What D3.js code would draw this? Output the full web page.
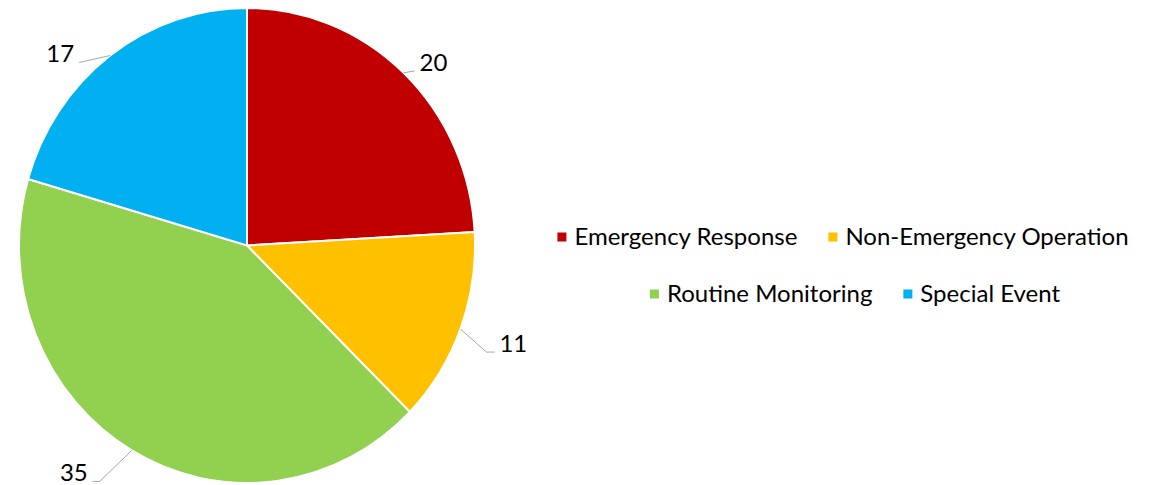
<!DOCTYPE html>
<html>
<head>
<meta charset="utf-8">
<script src="https://cdn.jsdelivr.net/npm/d3@7"></script>
<style>
  body { margin: 0; background: #fff; }
  text { font-family: Lato, "Open Sans", sans-serif; fill: #000; }
</style>
</head>
<body>
<div id="chart"></div>
<script>
// data
var categories = ["Emergency Response", "Non-Emergency Operation", "Routine Monitoring", "Special Event"];
var values = [20, 11, 35, 17];
var colors = ["#C00000", "#FFC000", "#92D050", "#00B0F0"];
var legendRows = [[0, 1], [2, 3]];

// leader lines: elbow offset from the arc point, then a short horizontal tail
var leaders = [[11, -2, 0], [26, 23, 8], [-32, 31, -7], [-31, 7, 0]];

var width = 1155, height = 485;
var cx = 247, cy = 245.5, rx = 228, ry = 237.5;

var svg = d3.select("#chart")
  .append("svg")
  .attr("width", width)
  .attr("height", height);

var pie = d3.pie().sort(null).value(function(d) { return d; });
var arcs = pie(values);

var arc = d3.arc().innerRadius(0).outerRadius(rx);

var g = svg.append("g")
  .attr("transform", "translate(" + cx + "," + cy + ") scale(1," + (ry / rx) + ")");

g.selectAll("path")
  .data(arcs)
  .enter().append("path")
  .attr("d", arc)
  .attr("fill", function(d, i) { return colors[i]; })
  .attr("stroke", "#fff")
  .attr("stroke-width", 2)
  .attr("vector-effect", "non-scaling-stroke");

// data labels
arcs.forEach(function(d, i) {
  var a = (d.startAngle + d.endAngle) / 2;
  var px = cx + Math.sin(a) * rx, py = cy - Math.cos(a) * ry;
  var ex = px + leaders[i][0], ey = py + leaders[i][1];
  var tx = ex + leaders[i][2];
  var right = Math.sin(a) > 0;

  svg.append("polyline")
    .attr("points", [[px, py], [ex, ey], [tx, ey]].join(" "))
    .attr("fill", "none")
    .attr("stroke", "#a6a6a6")
    .attr("stroke-width", 1);

  svg.append("text")
    .attr("x", right ? tx + 5 : tx - 5)
    .attr("y", ey)
    .attr("text-anchor", right ? "start" : "end")
    .style("font-size", "24px")
    .text(d.data);
});

// legend
var rowCx = [843, 855], rowY = [237, 294];
legendRows.forEach(function(row, r) {
  var lg = svg.append("g");
  var x = 0;
  row.forEach(function(i, k) {
    lg.append("rect")
      .attr("x", x).attr("y", rowY[r] - 4.5)
      .attr("width", 9).attr("height", 9)
      .attr("fill", colors[i]);
    var t = lg.append("text")
      .attr("x", x + 17)
      .attr("y", rowY[r])
      .attr("dy", "0.35em")
      .style("font-size", "24px")
      .text(categories[i]);
    x += 17 + t.node().getComputedTextLength() + (k < row.length - 1 ? 31 : 0);
  });
  lg.attr("transform", "translate(" + (rowCx[r] - x / 2) + ",0)");
});
</script>
</body>
</html>
